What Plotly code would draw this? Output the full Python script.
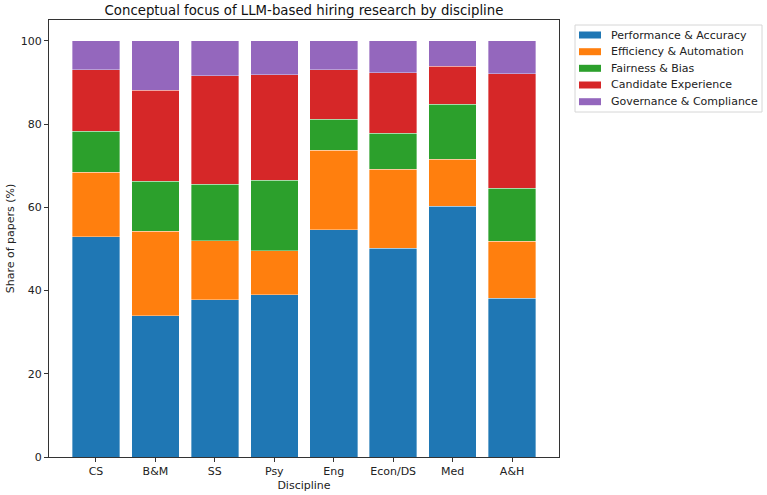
import plotly.graph_objects as go

disciplines = ["CS", "B&M", "SS", "Psy", "Eng", "Econ/DS", "Med", "A&H"]
performance = [52.9, 34.0, 37.8, 39.0, 54.6, 50.2, 60.2, 38.1]
efficiency = [15.5, 20.2, 14.2, 10.6, 19.1, 19.0, 11.3, 13.7]
fairness = [9.9, 12.0, 13.5, 16.9, 7.4, 8.6, 13.2, 12.8]
candidate = [14.7, 21.9, 26.1, 25.3, 11.9, 14.5, 9.2, 27.5]
governance = [7.0, 11.9, 8.4, 8.2, 7.0, 7.7, 6.1, 7.9]

series_names = ["Performance & Accuracy", "Efficiency & Automation", "Fairness & Bias",
                "Candidate Experience", "Governance & Compliance"]
series_values = [performance, efficiency, fairness, candidate, governance]
series_colors = ["#1f77b4", "#ff7f0e", "#2ca02c", "#d62728", "#9467bd"]

W, H = 767, 495
L, R, T, B = 49, 559, 20, 457  # plot area in pixels

fig = go.Figure()
for name, vals, color in zip(series_names, series_values, series_colors):
    fig.add_trace(go.Bar(
        x=list(range(len(disciplines))), y=vals, name=name,
        marker=dict(color=color, line=dict(color="rgba(255,255,255,0.6)", width=0.6)),
        width=0.8, showlegend=False,
    ))

def px(x):
    return (x - L) / (R - L)

def py(y):
    return (B - y) / (B - T)

# Custom legend (matplotlib style)
shapes = [dict(type="rect", xref="paper", yref="paper",
               x0=px(575), x1=px(762), y0=py(112), y1=py(25),
               line=dict(color="#d6d6d6", width=1), fillcolor="white", layer="above")]
annotations = []
ys = [35, 51.7, 68.3, 85, 101.7]
for name, color, yc in zip(series_names, series_colors, ys):
    shapes.append(dict(type="rect", xref="paper", yref="paper",
                       x0=px(579), x1=px(601), y0=py(yc + 3.5), y1=py(yc - 3.5),
                       line=dict(width=0), fillcolor=color, layer="above"))
    annotations.append(dict(text=name, xref="paper", yref="paper", x=px(609), y=py(yc),
                            xanchor="left", yanchor="middle", showarrow=False,
                            font=dict(family="DejaVu Sans", size=11, color="#222")))

font = "DejaVu Sans"
fig.update_layout(
    width=W, height=H,
    barmode="stack",
    paper_bgcolor="white", plot_bgcolor="white",
    margin=dict(l=L, r=W - R, t=T, b=H - B),
    font=dict(family=font, size=11, color="#222"),
    title=dict(text="Conceptual focus of LLM-based hiring research by discipline",
               x=(L + R) / 2 / W, xanchor="center", y=1 - 10 / H, yanchor="middle",
               font=dict(family=font, size=13.3, color="#111")),
    showlegend=False,
    shapes=shapes,
    annotations=annotations,
)
fig.update_xaxes(
    tickmode="array", tickvals=list(range(len(disciplines))), ticktext=disciplines,
    range=[-0.79, 7.79], showline=True, linecolor="#333", linewidth=1, mirror=True,
    ticks="outside", ticklen=4, tickcolor="#333", showgrid=False, zeroline=False,
    automargin=False,
    title=dict(text="Discipline", standoff=4, font=dict(family=font, size=11)),
)
fig.update_yaxes(
    range=[0, 105], tickvals=[0, 20, 40, 60, 80, 100],
    showline=True, linecolor="#333", linewidth=1, mirror=True,
    ticks="outside", ticklen=4, tickcolor="#333", showgrid=False, zeroline=False,
    automargin=False,
    title=dict(text="Share of papers (%)", standoff=3, font=dict(family=font, size=11)),
)
fig.write_html("out.html")
